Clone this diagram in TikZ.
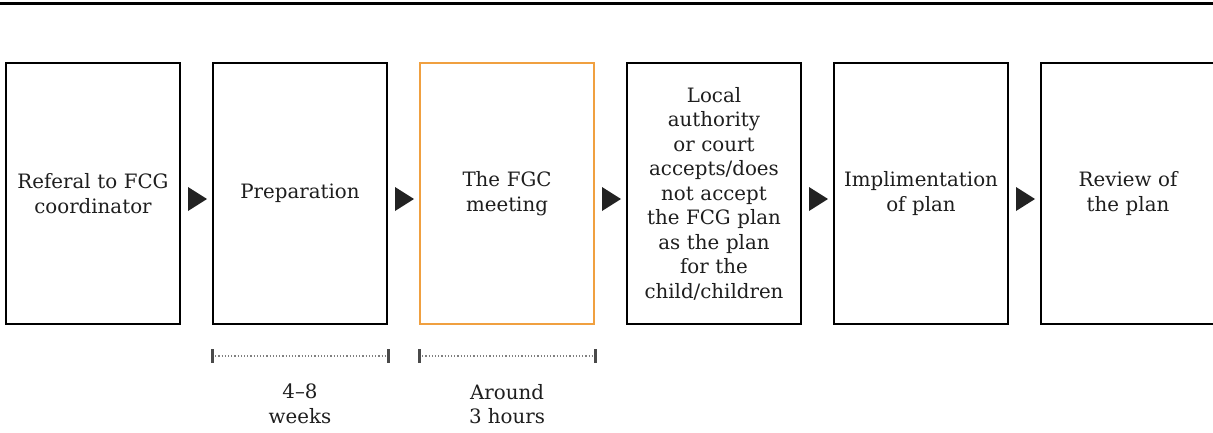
\documentclass[tikz,border=0pt]{standalone}
\usepackage{fontspec}
\setmainfont{DejaVu Serif}
\usetikzlibrary{calc}
\definecolor{fgcorange}{HTML}{F0A040}
\definecolor{tickgray}{HTML}{4A4A4A}
\definecolor{tri}{HTML}{222222}
\definecolor{txt}{HTML}{1E1E1E}
\tikzset{
  stage/.style={draw=black, line width=2pt, minimum width=174pt, minimum height=261pt,
    inner sep=0pt, align=center, text width=170pt,
    font=\fontsize{19.8pt}{24.5pt}\selectfont, text=txt},
  hilite/.style={draw=fgcorange},
  span/.style={font=\fontsize{19.8pt}{24.5pt}\selectfont, align=center, text=txt},
  tick/.style={draw=tickgray, line width=3pt},
  dots/.style={draw=gray, line width=1.2pt, dash pattern=on 1.2pt off 2pt},
  arrowtri/.style={fill=tri, draw=none}
}
\begin{document}
\begin{tikzpicture}[x=1pt,y=-1pt]
\useasboundingbox (0,0) rectangle (1213,432);
\fill[white] (0,0) rectangle (1213,432);
% top rule
\coordinate (tl) at (0,3.5);
\coordinate (tr) at (1213,3.5);
\draw[line width=3pt] (tl) -- (tr);
% stages
\node[stage] (s1) at (93,193.5) {Referal to FCG\\coordinator};
\node[stage] (s2) at (300,193.5) {Preparation};
\node[stage,hilite] (s3) at (507,193.5) {The FGC\\meeting};
\node[stage] (s4) at (714,193.5) {Local\\authority\\or court\\accepts/does\\not accept\\the FCG plan\\as the plan\\for the\\child/children};
\node[stage] (s5) at (921,193.5) {Implimentation\\of plan};
\node[stage] (s6) at (1128,193.5) {Review of\\the plan};
% arrows
\foreach \a in {s1,s2,s3,s4,s5}{
  \fill[arrowtri] ($(\a.east)+(7,-6.5)$) -- ++(0,24) -- ++(19,-12) -- cycle;
}
% spans
\coordinate (p1) at ($(s2.south west)+(0,31)$);
\coordinate (p2) at ($(s2.south east)+(0,31)$);
\coordinate (m1) at ($(s3.south west)+(0,31)$);
\coordinate (m2) at ($(s3.south east)+(0,31)$);
\draw[dots] (p1) -- (p2);
\draw[tick] ($(p1)+(0,-7)$) -- ($(p1)+(0,7)$);
\draw[tick] ($(p2)+(0,-7)$) -- ($(p2)+(0,7)$);
\draw[dots] (m1) -- (m2);
\draw[tick] ($(m1)+(0,-7)$) -- ($(m1)+(0,7)$);
\draw[tick] ($(m2)+(0,-7)$) -- ($(m2)+(0,7)$);
\node[span] (t1) at (300,404) {4–8\\weeks};
\node[span] (t2) at (507,404) {Around\\3 hours};
\end{tikzpicture}
\end{document}
